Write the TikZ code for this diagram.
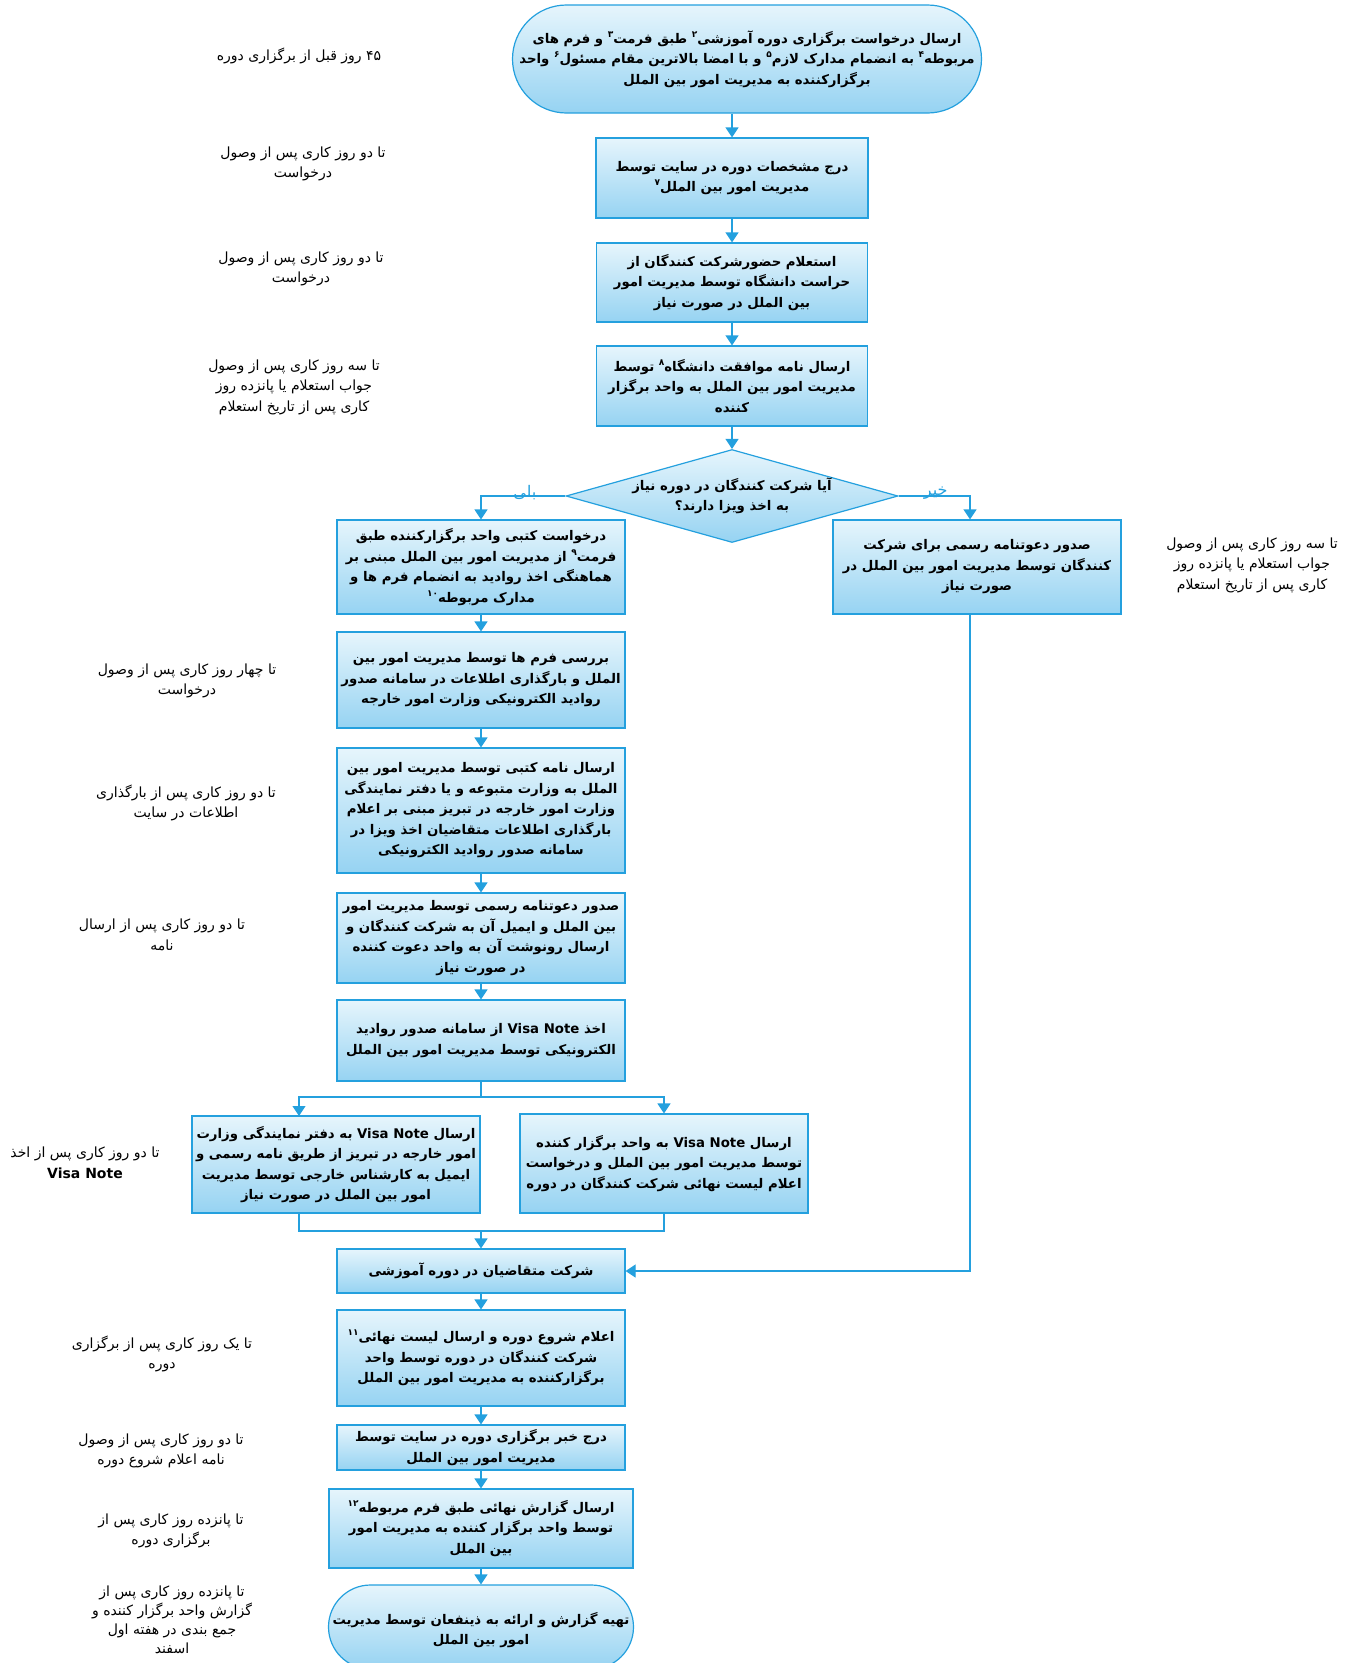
\documentclass[tikz,border=0pt]{standalone}
\usepackage{fontspec}
\usetikzlibrary{shapes.geometric,shapes.misc,arrows.meta}
\TeXXeTstate=1
\newfontfamily\fafont[Script=Arabic]{DejaVu Sans}
\newfontfamily\lafont{DejaVu Sans}
\newcommand{\fa}[1]{\beginR #1\endR}
\newcommand{\fn}[1]{\raisebox{0.8ex}{\fontsize{9}{9}\selectfont #1}}
\newcommand{\vn}{\beginL{\lafont\bfseries Visa Note}\endL{}}
\definecolor{flowblue}{RGB}{36,160,222}
\definecolor{filltop}{RGB}{230,245,252}
\definecolor{fillbot}{RGB}{150,211,242}
\tikzset{
  boxfont/.style={font=\fafont\bfseries\fontsize{13.3}{20.5}\selectfont},
  box/.style={draw=flowblue, line width=1.2pt, top color=filltop, bottom color=fillbot,
    minimum width=288pt, inner sep=2pt, align=center, boxfont},
  term/.style={draw=flowblue, line width=1.2pt, top color=filltop, bottom color=fillbot,
    rounded rectangle, inner sep=0pt},
  dia/.style={draw=flowblue, line width=1.2pt, diamond, top color=filltop, bottom color=fillbot, inner sep=0pt},
  inside/.style={boxfont, align=center, inner sep=0pt},
  note/.style={align=center, font=\fafont\fontsize{14}{20.5}\selectfont},
  yn/.style={text=flowblue, font=\fafont\fontsize{16}{17}\selectfont, inner sep=1pt},
  lnk/.style={draw=flowblue, line width=1.2pt},
  arr/.style={lnk, -{Triangle[width=13pt,length=10pt]}}
}
\begin{document}
\begin{tikzpicture}[x=1pt,y=-1pt]
\useasboundingbox (0,0) rectangle (1351,1663);

% main column
\node[term, minimum width=469pt, minimum height=108pt] (start) at (747,59) {};
\node[inside] (starttext) at (start)
  {\fa{ارسال درخواست برگزاری دوره آموزشی\fn{۲} طبق فرمت\fn{۳} و فرم های}\\
   \fa{مربوطه\fn{۴} به انضمام مدارک لازم\fn{۵} و با امضا بالاترین مقام مسئول\fn{۶} واحد}\\
   \fa{برگزارکننده به مدیریت امور بین الملل}};
\node[box, minimum width=272pt, minimum height=80pt] (b2) at (732,178)
  {\fa{درج مشخصات دوره در سایت توسط}\\\fa{مدیریت امور بین الملل\fn{۷}}};
\node[box, minimum width=271pt, minimum height=79pt] (b3) at (732,282.5)
  {\fa{استعلام حضورشرکت کنندگان از}\\\fa{حراست دانشگاه توسط مدیریت امور}\\\fa{بین الملل در صورت نیاز}};
\node[box, minimum width=271pt, minimum height=80pt] (b4) at (732,386)
  {\fa{ارسال نامه موافقت دانشگاه\fn{۸} توسط}\\\fa{مدیریت امور بین الملل به واحد برگزار}\\\fa{کننده}};
\node[dia, minimum width=332pt, minimum height=93pt] (dec) at (732,496) {};
\node[inside] (dectext) at (dec)
  {\fa{آیا شرکت کنندگان در دوره نیاز}\\\fa{به اخذ ویزا دارند؟}};

% visa branch
\node[box, minimum height=94pt] (yes) at (481,567)
  {\fa{درخواست کتبی واحد برگزارکننده طبق}\\\fa{فرمت\fn{۹} از مدیریت امور بین الملل مبنی بر}\\
   \fa{هماهنگی اخذ روادید به انضمام فرم ها و}\\\fa{مدارک مربوطه\fn{۱۰}}};
\node[box, minimum height=94pt] (no) at (977,567)
  {\fa{صدور دعوتنامه رسمی برای شرکت}\\\fa{کنندگان توسط مدیریت امور بین الملل در}\\\fa{صورت نیاز}};
\node[box, minimum height=96pt] (b6) at (481,680)
  {\fa{بررسی فرم ها توسط مدیریت امور بین}\\\fa{الملل و بارگذاری اطلاعات در سامانه صدور}\\
   \fa{روادید الکترونیکی وزارت امور خارجه}};
\node[box, minimum height=125pt] (b7) at (481,810.5)
  {\fa{ارسال نامه کتبی توسط مدیریت امور بین}\\\fa{الملل به وزارت متبوعه و یا دفتر نمایندگی}\\
   \fa{وزارت امور خارجه در تبریز مبنی بر اعلام}\\\fa{بارگذاری اطلاعات متقاضیان اخذ ویزا در}\\
   \fa{سامانه صدور روادید الکترونیکی}};
\node[box, minimum height=90pt] (b8) at (481,938)
  {\fa{صدور دعوتنامه رسمی توسط مدیریت امور}\\\fa{بین الملل و ایمیل آن به شرکت کنندگان و}\\
   \fa{ارسال رونوشت آن به واحد دعوت کننده}\\\fa{در صورت نیاز}};
\node[box, minimum height=81pt] (b9) at (481,1040.5)
  {\fa{اخذ \vn{} از سامانه صدور روادید}\\\fa{الکترونیکی توسط مدیریت امور بین الملل}};
\node[box, minimum height=97pt] (vl) at (336,1164.5)
  {\fa{ارسال \vn{} به دفتر نمایندگی وزارت}\\\fa{امور خارجه در تبریز از طریق نامه رسمی و}\\
   \fa{ایمیل به کارشناس خارجی توسط مدیریت}\\\fa{امور بین الملل در صورت نیاز}};
\node[box, minimum height=99pt] (vr) at (664,1163.5)
  {\fa{ارسال \vn{} به واحد برگزار کننده}\\\fa{توسط مدیریت امور بین الملل و درخواست}\\
   \fa{اعلام لیست نهائی شرکت کنندگان در دوره}};
\node[box, minimum height=44pt] (b12) at (481,1271)
  {\fa{شرکت متقاضیان در دوره آموزشی}};
\node[box, minimum height=96pt] (b13) at (481,1358)
  {\fa{اعلام شروع دوره و ارسال لیست نهائی\fn{۱۱}}\\\fa{شرکت کنندگان در دوره توسط واحد}\\
   \fa{برگزارکننده به مدیریت امور بین الملل}};
\node[box, minimum height=45pt] (b14) at (481,1447.5)
  {\fa{درج خبر برگزاری دوره در سایت توسط}\\\fa{مدیریت امور بین الملل}};
\node[box, minimum width=304pt, minimum height=79pt] (b15) at (481,1528.5)
  {\fa{ارسال گزارش نهائی طبق فرم مربوطه\fn{۱۲}}\\\fa{توسط واحد برگزار کننده به مدیریت امور}\\\fa{بین الملل}};
\node[term, minimum width=305pt, minimum height=84pt] (stop) at (481,1627) {};
\node[inside] (stoptext) at ([yshift=-3pt]stop)
  {\fa{تهیه گزارش و ارائه به ذینفعان توسط مدیریت}\\\fa{امور بین الملل}};

\coordinate (split) at (481,1097);
\coordinate (vlin) at (299,1116);
\coordinate (vlout) at (299,1213);
\coordinate (merge) at (481,1231);

% connectors
\draw[arr] (b2.north |- start.south) -- (b2.north);
\draw[arr] (b2) -- (b3);
\draw[arr] (b3) -- (b4);
\draw[arr] (b4) -- (dec);
\draw[arr] (dec.west) -| node[yn, pos=0.24, above=-5pt] {\fa{بلی}} (yes.north);
\draw[arr] (dec.east) -| node[yn, pos=0.26, above=-5pt] {\fa{خیر}} ([xshift=-7pt]no.north);
\draw[arr] (yes) -- (b6);
\draw[arr] (b6) -- (b7);
\draw[arr] (b7) -- (b8);
\draw[arr] (b8) -- (b9);
\draw[lnk] (b9.south) -- (split);
\draw[arr] (split) -| (vlin);
\draw[arr] (split) -| (vr.north);
\draw[lnk] (vlout) |- (merge);
\draw[lnk] (vr.south) |- (merge);
\draw[arr] (merge) -- (b12.north);
\draw[arr] ([xshift=-7pt]no.south) |- (b12.east);
\draw[arr] (b12) -- (b13);
\draw[arr] (b13) -- (b14);
\draw[arr] (b14) -- (b15);
\draw[arr] (b15) -- (stop);

% time notes
\node[note] (n1) at (299,56) {\fa{۴۵ روز قبل از برگزاری دوره}};
\node[note] (n2) at (303,164) {\fa{تا دو روز کاری پس از وصول}\\\fa{درخواست}};
\node[note] (n3) at (301,269) {\fa{تا دو روز کاری پس از وصول}\\\fa{درخواست}};
\node[note] (n4) at (294,387) {\fa{تا سه روز کاری پس از وصول}\\\fa{جواب استعلام یا پانزده روز}\\\fa{کاری پس از تاریخ استعلام}};
\node[note] (n5) at (1252,565) {\fa{تا سه روز کاری پس از وصول}\\\fa{جواب استعلام یا پانزده روز}\\\fa{کاری پس از تاریخ استعلام}};
\node[note] (n6) at (187,681) {\fa{تا چهار روز کاری پس از وصول}\\\fa{درخواست}};
\node[note] (n7) at (186,803) {\fa{تا دو روز کاری پس از بارگذاری}\\\fa{اطلاعات در سایت}};
\node[note] (n8) at (162,935) {\fa{تا دو روز کاری پس از ارسال}\\\fa{نامه}};
\node[note] (n9) at (85,1163) {\fa{تا دو روز کاری پس از اخذ}\\{\lafont\bfseries Visa Note}};
\node[note] (n10) at (162,1354) {\fa{تا یک روز کاری پس از برگزاری}\\\fa{دوره}};
\node[note] (n11) at (161,1451) {\fa{تا دو روز کاری پس از وصول}\\\fa{نامه اعلام شروع دوره}};
\node[note] (n12) at (171,1531) {\fa{تا پانزده روز کاری پس از}\\\fa{برگزاری دوره}};
\node[note, font=\fafont\fontsize{14}{19}\selectfont] (n13) at (172,1620)
  {\fa{تا پانزده روز کاری پس از}\\\fa{گزارش واحد برگزار کننده و}\\\fa{جمع بندی در هفته اول}\\\fa{اسفند}};
\end{tikzpicture}
\end{document}
